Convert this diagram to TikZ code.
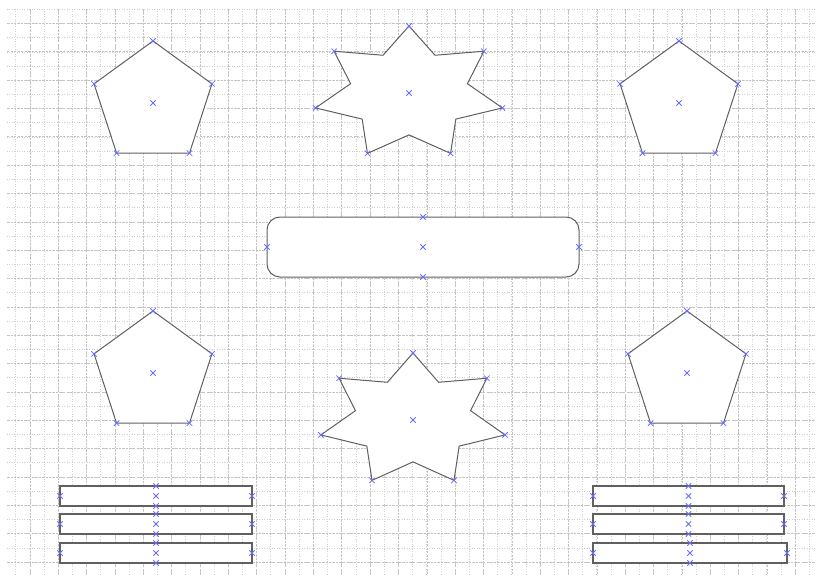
\documentclass[tikz,border=0pt]{standalone}
\usetikzlibrary{shapes.geometric}
\definecolor{edge}{HTML}{606060}
\definecolor{mark}{HTML}{6B6BFF}
\definecolor{gridline}{HTML}{C2C2C2}
\tikzset{
  outline/.style={draw=edge,fill=white,line width=1pt,inner sep=0pt,outer sep=0pt},
  penta/.style={outline,regular polygon,regular polygon sides=5,minimum size=124pt},
  starry/.style={outline,star,star points=7,star point ratio=1.6,minimum size=134pt,transform shape},
  bar/.style={outline,rectangle,minimum height=20pt,line width=1.2pt},
  xmark/.style={draw=mark,line width=0.75pt}
}
\newcommand\anchorx[1]{\draw[xmark] (#1) ++(-2.7,-2.7) -- ++(5.4,5.4) (#1) ++(-2.7,2.7) -- ++(5.4,-5.4);}
\begin{document}
\begin{tikzpicture}[x=1pt,y=-1pt]
\useasboundingbox (0,0) rectangle (819,578);
% background grid
\begin{scope}
\clip (7,8) rectangle (815,575);
\draw[gridline!80,dotted,line width=0.5pt,shift={(1.5,9.3)},step=14.17pt] (-20,-20) grid (840,600);
\draw[gridline,dash pattern=on 2pt off 1.5pt,line width=0.5pt,shift={(1.5,23.3)},step=28.35pt] (-40,-40) grid (840,600);
\end{scope}
% pentagons
\node[penta] (p1) at (153,103) {};
\node[penta] (p2) at (679,103) {};
\node[penta] (p3) at (153,373) {};
\node[penta] (p4) at (687,373) {};
% stars
\begin{scope}[shift={(409,93)},xscale=1.43]
\node[starry] (s1) at (0,0) {};
\end{scope}
\begin{scope}[shift={(413,420)},xscale=1.41]
\node[starry] (s2) at (0,0) {};
\end{scope}
% rounded box
\node[outline,rectangle,rounded corners=13pt,minimum width=312pt,minimum height=60pt] (r) at (423,247) {};
% bars
\node[bar,minimum width=192pt] (l1) at (156,496) {};
\node[bar,minimum width=192pt] (l2) at (156,524) {};
\node[bar,minimum width=192pt] (l3) at (156,553) {};
\node[bar,minimum width=191pt] (q1) at (688.5,496) {};
\node[bar,minimum width=191pt] (q2) at (688.5,524) {};
\node[bar,minimum width=194pt] (q3) at (690,553) {};
% anchor marks
\foreach \p in {p1,p2,p3,p4}{
  \anchorx{\p.center}
  \foreach \i in {1,...,5}{\anchorx{\p.corner \i}}
}
\foreach \s in {s1,s2}{
  \anchorx{\s.center}
  \foreach \i in {1,...,7}{\anchorx{\s.outer point \i}}
}
\foreach \b in {r,l1,l2,l3,q1,q2,q3}{
  \foreach \a in {center,north,south,east,west}{\anchorx{\b.\a}}
}
\end{tikzpicture}
\end{document}
